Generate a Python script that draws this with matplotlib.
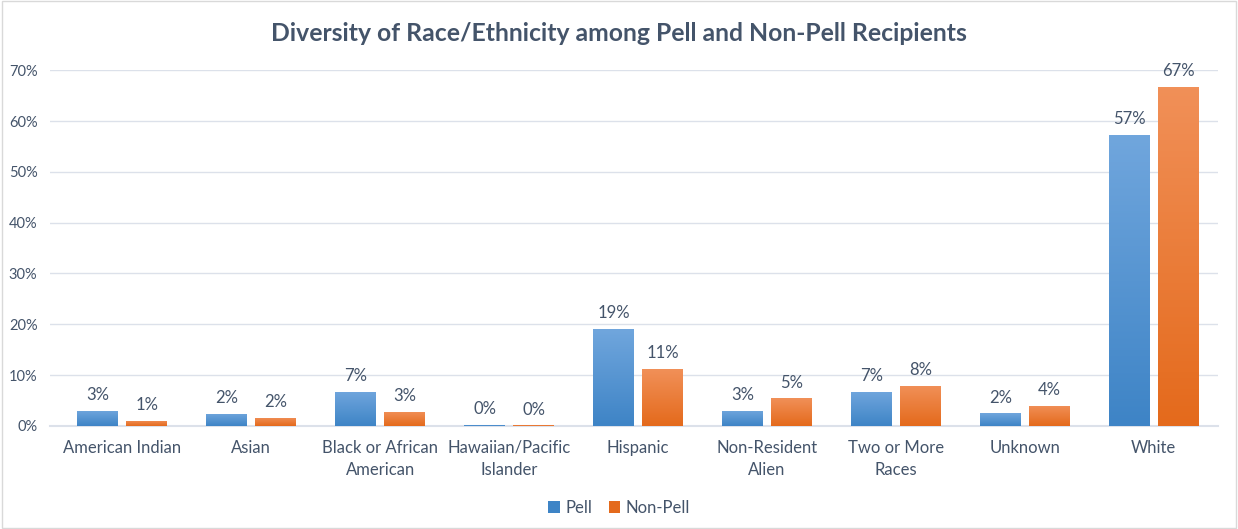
import matplotlib.pyplot as plt
import matplotlib.colors as mcolors
from matplotlib.patches import Rectangle
import numpy as np

plt.rcParams['font.family'] = ['Lato', 'DejaVu Sans']

categories = ["American Indian", "Asian", "Black or African\nAmerican", "Hawaiian/Pacific\nIslander",
              "Hispanic", "Non-Resident\nAlien", "Two or More\nRaces", "Unknown", "White"]
pell = [3.0, 2.4, 6.7, 0.2, 19.1, 3.0, 6.7, 2.5, 57.3]
non_pell = [1.0, 1.6, 2.8, 0.1, 11.2, 5.4, 7.9, 4.0, 66.8]

text_col = "#44546A"
pell_grad = ["#70A6DD", "#3E84C6"]
nonpell_grad = ["#F19058", "#E46A1C"]

fig = plt.figure(figsize=(12.38, 5.29), dpi=100)
fig.patches.append(Rectangle((0.002, 0.002), 0.996, 0.996, transform=fig.transFigure,
                             fill=False, edgecolor="#D9D9D9", linewidth=1))
ax = fig.add_axes([0.0404, 0.195, 0.9435, 0.672])

x = np.arange(len(categories))
w = 0.318
off = 0.19


def grad_bars(xs, vals, cols, label):
    bars = ax.bar(xs, vals, w, color=cols[1], label=label, zorder=2)
    cmap = mcolors.LinearSegmentedColormap.from_list("g", [cols[1], cols[0]])
    for b in bars:
        h = b.get_height()
        if h <= 0:
            continue
        im = ax.imshow(np.linspace(0, 1, 100).reshape(-1, 1), cmap=cmap, aspect="auto",
                       extent=[b.get_x(), b.get_x() + b.get_width(), 0, h],
                       origin="lower", zorder=3)
        im.set_clip_path(b)
    for xi, v in zip(xs, vals):
        ax.text(xi, v + 1.5, f"{v:.0f}%", ha="center", va="bottom", fontsize=12, color=text_col)
    return bars


grad_bars(x - off, pell, pell_grad, "Pell")
grad_bars(x + off, non_pell, nonpell_grad, "Non-Pell")

ax.set_xlim(-0.562, len(categories) - 0.5)
ax.set_ylim(0, 70)
ax.set_yticks(range(0, 71, 10))
ax.set_yticklabels([f"{t}%" for t in range(0, 71, 10)], fontsize=10.5, color=text_col)
ax.set_xticks(x)
ax.set_xticklabels(categories, fontsize=12, color=text_col, linespacing=1.45)
ax.tick_params(axis="both", length=0)
ax.tick_params(axis="x", pad=10)
ax.tick_params(axis="y", pad=9)
ax.grid(axis="y", color="#DCE1EA", linewidth=1, zorder=0)
ax.set_axisbelow(True)
for s in ["top", "right", "left"]:
    ax.spines[s].set_visible(False)
ax.spines["bottom"].set_color("#DCE1EA")
ax.spines["bottom"].set_linewidth(1.5)

fig.suptitle("Diversity of Race/Ethnicity among Pell and Non-Pell Recipients", y=0.958,
             fontsize=17.8, fontweight="bold", color=text_col)

leg = fig.legend(loc="lower center", bbox_to_anchor=(0.5, -0.003), ncol=2, frameon=False,
                 fontsize=12, handlelength=0.7, handleheight=0.7, handletextpad=0.3,
                 columnspacing=1.0)
for t in leg.get_texts():
    t.set_color(text_col)

fig.savefig("out.png", dpi=100)
